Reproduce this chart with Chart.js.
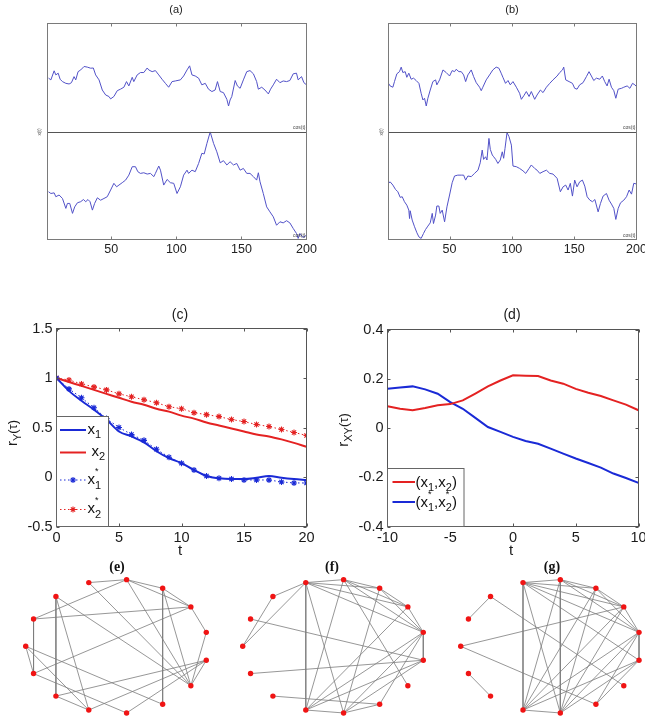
<!DOCTYPE html>
<html><head><meta charset="utf-8">
<script src="https://cdn.jsdelivr.net/npm/chart.js@4/dist/chart.umd.min.js"></script>
<style>
html,body{margin:0;padding:0;background:#fff;}
body{width:645px;height:720px;position:relative;overflow:hidden;}
.p{position:absolute;overflow:hidden;}
canvas{display:block;}
</style></head><body>
<div class="p" style="left:0;top:0;width:320px;height:265px"><canvas id="ca" width="320" height="265"></canvas></div>
<div class="p" style="left:320px;top:0;width:325px;height:265px"><canvas id="cb" width="345" height="265"></canvas></div>
<div class="p" style="left:0;top:280px;width:320px;height:285px"><canvas id="cc" width="320" height="285"></canvas></div>
<div class="p" style="left:320px;top:280px;width:325px;height:285px"><canvas id="cd" width="345" height="285"></canvas></div>
<div class="p" style="left:0;top:560px;width:215px;height:160px"><canvas id="ce" width="215" height="160"></canvas></div>
<div class="p" style="left:215px;top:560px;width:215px;height:160px"><canvas id="cf" width="215" height="160"></canvas></div>
<div class="p" style="left:430px;top:560px;width:215px;height:160px"><canvas id="cg" width="215" height="160"></canvas></div>
<script>
// ---------- DATA ----------
// Panels (a),(b): time index t and signal level (relative units, midline = 50)
const xTicksAB = [50, 100, 150, 200];
const seriesA_top = [[1.8,74.7],[3.6,73.9],[6.1,78.1],[7.4,76.2],[9.2,77.0],[10.7,74.2],[12.5,73.1],[15.1,72.3],[17.6,72.0],[19.4,72.6],[21.4,75.4],[22.7,73.9],[24.5,77.7],[26.5,78.5],[29.1,80.1],[31.6,79.8],[34.2,79.3],[36.2,79.4],[38.0,76.2],[40.6,73.9],[43.1,69.2],[45.7,66.9],[48.2,66.2],[49.5,65.1],[52.0,66.2],[54.6,68.9],[57.1,69.6],[59.7,70.5],[61.7,73.1],[63.5,71.1],[66.1,75.1],[67.3,73.1],[69.9,76.2],[72.4,77.3],[75.0,77.3],[77.6,79.4],[78.8,78.5],[81.4,77.7],[83.9,78.2],[86.5,76.2],[89.0,74.2],[91.6,72.3],[94.1,70.5],[96.7,73.1],[99.2,73.4],[103.1,73.9],[105.6,75.7],[108.2,78.5],[110.2,80.4],[112.0,76.2],[114.5,75.7],[117.1,74.7],[119.6,71.6],[122.2,72.3],[124.7,69.6],[127.3,68.5],[129.8,69.2],[131.6,73.1],[133.7,68.5],[136.2,68.0],[138.8,64.9],[140.1,61.8],[141.3,64.6],[142.6,66.2],[145.2,73.6],[146.9,71.1],[149.0,70.0],[151.5,73.9],[154.1,77.7],[156.6,78.2],[159.2,76.7],[161.7,73.1],[163.0,69.6],[165.6,70.5],[168.1,69.2],[170.7,67.4],[172.4,69.6],[174.5,71.6],[177.0,74.2],[179.6,72.6],[182.1,73.4],[184.7,73.1],[187.2,73.6],[189.8,76.7],[192.3,77.0],[193.6,73.9],[196.2,75.4],[198.0,72.6],[200.0,71.6]];
const seriesA_bottom = [[1.8,22.1],[3.6,21.3],[6.1,21.6],[7.4,19.8],[9.9,20.6],[12.5,19.0],[15.1,14.4],[16.3,16.7],[18.1,16.7],[20.2,12.1],[21.9,15.1],[24.0,17.0],[26.5,17.5],[28.6,18.5],[30.4,17.5],[32.1,18.5],[33.7,17.5],[35.5,13.6],[37.2,16.7],[39.3,19.3],[41.8,18.2],[44.4,19.0],[46.9,19.8],[49.5,22.9],[52.0,26.0],[54.1,24.4],[55.9,25.2],[58.4,26.3],[61.0,27.5],[63.5,29.8],[66.1,33.7],[68.6,33.7],[70.4,31.4],[72.4,30.6],[75.0,30.9],[77.6,30.3],[80.1,30.6],[82.7,29.1],[83.9,30.6],[86.5,34.0],[87.8,32.1],[90.3,25.2],[92.9,27.8],[95.4,26.3],[98.0,26.0],[100.5,21.3],[103.1,24.4],[105.6,29.8],[108.2,32.1],[109.4,30.6],[112.0,32.1],[114.5,31.4],[117.1,35.2],[119.6,39.9],[121.4,39.6],[123.5,44.5],[126.0,49.8],[128.6,44.5],[131.1,40.6],[133.7,35.5],[136.2,36.5],[138.8,34.5],[141.3,36.0],[143.9,34.5],[146.4,35.2],[149.0,32.1],[151.5,32.9],[154.1,30.6],[156.6,30.6],[159.2,29.1],[161.7,27.5],[163.0,30.9],[164.3,26.7],[166.8,21.3],[169.4,15.1],[171.9,12.8],[174.5,10.5],[177.0,6.6],[179.6,8.2],[182.1,7.7],[184.7,8.7],[187.2,7.7],[189.8,5.1],[192.3,2.8],[193.6,0.5],[194.9,2.8],[197.4,0.9],[200.0,2.0]];
const seriesB_top = [[1,72.3],[2.3,71.1],[4.5,70.5],[5.8,73.1],[7.7,76.7],[9.8,77.7],[11.2,79.8],[12.5,77.3],[14.4,77.7],[15.7,75.1],[17.3,77.0],[19.2,74.2],[21.1,74.7],[23.2,73.6],[25.4,72.3],[27.2,67.7],[28.6,64.6],[29.9,65.4],[31.3,61.8],[32.6,65.4],[34.5,69.2],[36.6,73.1],[38.8,73.9],[39.8,71.6],[42.0,73.9],[44.7,78.5],[47.3,77.3],[50.0,75.7],[52.1,78.2],[54.0,77.7],[55.3,78.8],[57.5,77.7],[59.4,77.7],[61.3,76.2],[62.9,73.1],[64.7,76.2],[67.4,78.5],[69.3,75.4],[71.4,72.6],[74.1,70.5],[75.4,68.9],[76.7,70.5],[79.4,73.9],[82.1,76.2],[84.7,78.5],[87.4,79.8],[89.6,79.3],[91.4,77.0],[92.8,75.1],[94.9,72.3],[96.9,73.6],[98.7,71.6],[100.9,73.1],[103.6,70.5],[106.2,67.7],[107.6,64.9],[109.5,66.5],[111.6,68.5],[113.8,66.2],[115.6,68.5],[118.3,64.9],[120.2,66.9],[122.9,69.2],[125.0,68.0],[127.7,70.5],[130.4,72.3],[133.0,73.9],[136.3,75.7],[138.4,77.3],[140.6,78.5],[141.6,79.8],[143.2,73.9],[145.9,73.1],[148.6,72.3],[150.4,70.0],[152.3,69.6],[154.4,71.6],[157.1,72.6],[159.8,75.4],[161.9,77.7],[163.8,75.7],[165.7,73.6],[167.8,74.7],[170.5,74.2],[172.6,75.7],[174.5,73.1],[176.4,71.1],[178.0,74.2],[179.9,70.5],[181.8,68.9],[183.4,65.4],[185.3,69.6],[188.0,70.0],[189.8,70.5],[192.5,71.1],[194.7,70.0],[196.8,72.3],[198.7,71.6],[200.0,70.8]];
const seriesB_bottom = [[1,26.0],[2.3,26.7],[4.5,25.2],[6.6,23.2],[8.5,22.1],[10.4,19.5],[12.0,19.8],[13.8,17.5],[15.7,15.9],[17.3,13.6],[17.9,9.7],[18.4,13.3],[20.0,9.0],[21.9,5.9],[23.8,3.1],[25.4,1.2],[27.2,0.5],[29.1,2.8],[30.7,4.6],[32.6,6.2],[34.5,7.7],[36.1,12.1],[37.1,7.4],[38.8,11.3],[39.8,15.5],[41.4,15.5],[42.5,12.1],[44.1,13.6],[46.0,8.2],[47.9,15.1],[50.0,20.6],[52.1,26.3],[54.0,29.4],[56.6,29.8],[59.4,29.8],[61.3,29.8],[62.9,27.5],[64.7,29.4],[67.4,29.1],[70.0,30.6],[72.8,32.1],[74.6,35.5],[76.2,41.4],[77.3,37.1],[78.9,38.3],[80.0,36.8],[81.6,46.8],[82.7,41.7],[84.3,39.1],[85.4,38.3],[87.0,37.1],[88.8,35.2],[90.7,36.8],[92.3,40.6],[93.4,37.6],[94.5,42.2],[96.1,49.5],[97.7,47.6],[99.6,43.7],[100.9,34.0],[103.6,33.7],[106.2,32.9],[108.9,31.8],[111.1,30.6],[113.8,32.9],[115.6,34.5],[118.3,32.9],[120.2,32.1],[122.4,30.6],[125.0,31.4],[127.7,32.1],[130.4,30.6],[133.0,30.3],[136.3,28.3],[138.9,22.1],[141.1,24.4],[143.2,25.2],[145.1,22.9],[146.9,26.0],[148.6,20.1],[150.4,27.5],[152.3,24.4],[154.4,26.7],[156.6,27.5],[158.5,24.7],[160.4,19.8],[162.6,18.2],[164.7,17.5],[166.6,18.5],[169.2,12.8],[171.1,16.7],[173.2,20.1],[175.9,21.3],[178.0,18.2],[179.9,16.4],[181.8,14.4],[183.4,9.3],[185.3,14.4],[187.2,17.0],[189.8,18.2],[192.0,19.8],[194.1,22.9],[196.0,21.0],[197.8,26.0],[200.0,25.7]];

// Panel (c): autocorrelation r_Y(tau)
const tC = [0,1,2,3,4,5,6,7,8,9,10,11,12,13,14,15,16,17,18,19,20];
const cX1 = [1,0.87,0.77,0.68,0.58,0.46,0.41,0.35,0.26,0.19,0.14,0.07,0.01,-0.013,-0.02,-0.02,-0.007,0.01,-0.007,-0.02,-0.03];
const cX2 = [1,0.96,0.92,0.88,0.84,0.80,0.76,0.73,0.69,0.66,0.62,0.59,0.55,0.52,0.49,0.46,0.43,0.41,0.38,0.345,0.305];
const cX1s = [1,0.89,0.80,0.70,0.59,0.50,0.43,0.37,0.28,0.20,0.14,0.07,0.01,-0.013,-0.02,-0.03,-0.03,-0.03,-0.05,-0.06,-0.06];
const cX2s = [1,0.98,0.94,0.91,0.88,0.84,0.81,0.78,0.75,0.71,0.69,0.65,0.63,0.61,0.58,0.56,0.53,0.51,0.48,0.45,0.42];
const xTicksC = [0,5,10,15,20];
const yTicksC = [-0.5,0,0.5,1,1.5];

// Panel (d): cross-correlation r_XY(tau)
const tD = [-10,-9,-8,-7,-6,-5,-4,-3,-2,-1,0,1,2,3,4,5,6,7,8,9,10];
const dX12 = [0.088,0.078,0.072,0.081,0.092,0.097,0.112,0.14,0.169,0.193,0.214,0.212,0.211,0.193,0.18,0.159,0.143,0.13,0.112,0.095,0.072];
const dX12s = [0.159,0.164,0.169,0.157,0.139,0.105,0.078,0.041,0.004,-0.016,-0.036,-0.053,-0.064,-0.084,-0.104,-0.124,-0.142,-0.161,-0.185,-0.203,-0.223];
const xTicksD = [-10,-5,0,5,10];
const yTicksD = [-0.4,-0.2,0,0.2,0.4];

// Panels (e),(f),(g): 15 nodes on an ellipse (unit coords) and edge lists
const nodeX = [-1,-0.914,-0.669,-0.309,0.105,0.5,0.809,0.978,0.978,0.809,0.5,0.105,-0.309,-0.669,-0.914];
const nodeY = [0,0.407,0.743,0.951,0.995,0.866,0.588,0.208,-0.208,-0.588,-0.866,-0.995,-0.951,-0.743,-0.407];
const edgesE = [[3,4],[4,5],[4,6],[5,6],[6,7],[4,9],[5,9],[5,10],[2,9],[6,1],[6,14],[1,4],[1,14],[2,13],[2,12],[0,14],[0,10],[14,11],[13,8],[13,12],[12,8],[11,8],[9,8],[3,9],[7,9],[0,12]];
const edgesF = [[1,8],[0,2],[0,3],[2,3],[3,4],[3,5],[3,6],[3,7],[3,12],[3,11],[4,5],[4,9],[4,12],[4,7],[5,6],[5,7],[5,11],[6,7],[6,12],[7,8],[7,12],[7,11],[7,10],[8,14],[8,12],[8,11],[13,10],[11,10],[12,11],[4,6]];
const edgesG = [[1,2],[2,9],[0,6],[0,10],[14,13],[3,12],[4,11],[3,4],[3,5],[3,6],[3,7],[3,8],[3,11],[4,5],[4,6],[4,7],[4,12],[5,6],[5,7],[5,11],[5,12],[6,7],[6,11],[6,12],[7,8],[7,12],[7,11],[7,10],[8,12],[8,11],[8,10],[12,11]];

// ---------- STYLE / HELPERS ----------
const FONT = '"Liberation Sans", Arial, sans-serif';
const SERIF = '"Liberation Serif", "Times New Roman", serif';
const TS_BLUE = '#5252c8';
const BLUE = '#1a2ad6';
const RED = '#e42222';
Chart.defaults.font.family = FONT;

const framePlugin = {
  id: 'frame',
  afterDatasetsDraw(chart, args, o) {
    const ctx = chart.ctx, a = chart.chartArea;
    const xs = chart.scales.x, ys = chart.scales.y;
    ctx.save();
    ctx.lineWidth = 1;
    if (o.mid != null) {
      const py = Math.round(ys.getPixelForValue(o.mid)) + 0.5;
      ctx.strokeStyle = o.midColor || '#444';
      ctx.beginPath(); ctx.moveTo(a.left, py); ctx.lineTo(a.right, py); ctx.stroke();
    }
    ctx.strokeStyle = o.color || '#555';
    ctx.strokeRect(a.left, a.top, a.right - a.left, a.bottom - a.top);
    const L = o.tick || 3;
    ctx.beginPath();
    (o.xt || []).forEach(v => {
      const p = Math.round(xs.getPixelForValue(v)) + 0.5;
      ctx.moveTo(p, a.bottom); ctx.lineTo(p, a.bottom - L);
      ctx.moveTo(p, a.top); ctx.lineTo(p, a.top + L);
    });
    (o.yt || []).forEach(v => {
      const p = Math.round(ys.getPixelForValue(v)) + 0.5;
      ctx.moveTo(a.left, p); ctx.lineTo(a.left + L, p);
      ctx.moveTo(a.right, p); ctx.lineTo(a.right - L, p);
    });
    ctx.stroke();
    ctx.restore();
  }
};

function measureRich(ctx, parts, fam) {
  let w = 0;
  parts.forEach(p => { ctx.font = (p.w || '') + ' ' + p.s + 'px ' + fam; if (!p.stay) w += ctx.measureText(p.t).width; });
  return w;
}
function rich(ctx, x, y, parts, fam, color) {
  ctx.save();
  ctx.fillStyle = color || '#111';
  ctx.textBaseline = 'alphabetic'; ctx.textAlign = 'left';
  let cx = x;
  parts.forEach(p => {
    ctx.font = (p.w || '') + ' ' + p.s + 'px ' + fam;
    ctx.fillText(p.t, cx + (p.dx || 0), y + (p.dy || 0));
    if (!p.stay) cx += ctx.measureText(p.t).width;
  });
  ctx.restore();
}
function text(ctx, s, x, y, font, color, align, rot) {
  ctx.save();
  ctx.font = font; ctx.fillStyle = color || '#111';
  ctx.textAlign = align || 'center'; ctx.textBaseline = 'middle';
  ctx.translate(x, y); if (rot) ctx.rotate(rot);
  ctx.fillText(s, 0, 0);
  ctx.restore();
}
function rotRich(ctx, cx, cy, parts, fam, color) {
  const w = measureRich(ctx, parts, fam);
  ctx.save(); ctx.translate(cx, cy); ctx.rotate(-Math.PI / 2);
  rich(ctx, -w / 2, 5, parts, fam, color);
  ctx.restore();
}
function pts(pairs) { return pairs.map(p => ({ x: p[0], y: p[1] })); }
function zipXY(xs, ys) { return xs.map((x, i) => ({ x: x, y: ys[i] })); }

// ---------- (a), (b) ----------
function tsChart(id, top, bottom, padL, padR, title, titleX, lblX) {
  const el = document.getElementById(id);
  const H = el.height;
  const mk = d => ({ data: pts(d), showLine: true, borderColor: TS_BLUE, borderWidth: 1, pointRadius: 0, tension: 0 });
  return new Chart(el, {
    type: 'scatter',
    data: { datasets: [mk(top), mk(bottom)] },
    options: {
      animation: false, responsive: false, events: [],
      layout: { padding: { left: padL, top: 23.5, right: padR, bottom: 0 } },
      scales: {
        x: { type: 'linear', min: 1, max: 200,
          afterBuildTicks: s => { s.ticks = xTicksAB.map(v => ({ value: v })); },
          afterFit: s => { s.height = H - 239.5; },
          grid: { display: false, drawTicks: false }, border: { display: false },
          ticks: { padding: 3, autoSkip: false, maxRotation: 0, color: '#222', font: { family: FONT, size: 12.5 } } },
        y: { type: 'linear', display: false, min: 0, max: 100 }
      },
      plugins: { legend: { display: false }, tooltip: { enabled: false },
        frame: { color: '#7a7a7a', midColor: '#555', mid: 50, xt: [50, 100, 150], tick: 3 } }
    },
    plugins: [framePlugin, { id: 'tx', afterDraw(chart) {
      const ctx = chart.ctx, a = chart.chartArea;
      text(ctx, title, titleX, 10, '11px "Liberation Sans Narrow", ' + FONT, '#222');
      text(ctx, 'x(t)', lblX, 132, '5px ' + FONT, '#555', 'center', -Math.PI / 2);
      text(ctx, 'cos(t)', a.right - 1, 128, '5px ' + FONT, '#444', 'right');
      text(ctx, 'cos(t)', a.right - 1, 236, '5px ' + FONT, '#444', 'right');
    } }]
  });
}
tsChart('ca', seriesA_top, seriesA_bottom, 47.5, 13.5, '(a)', 176, 40);
tsChart('cb', seriesB_top, seriesB_bottom, 68.5, 28.5, '(b)', 192, 62);

// ---------- (c), (d) ----------
function corrScales(H, yW, xmin, xmax, ymin, ymax, xt, yt) {
  return {
    x: { type: 'linear', min: xmin, max: xmax,
      afterBuildTicks: s => { s.ticks = xt.map(v => ({ value: v })); },
      afterFit: s => { s.height = H - 246.5; },
      grid: { display: false, drawTicks: false }, border: { display: false },
      ticks: { padding: 3, autoSkip: false, maxRotation: 0, color: '#1a1a1a', font: { family: FONT, size: 14.5 }, callback: v => String(v) } },
    y: { type: 'linear', min: ymin, max: ymax,
      afterBuildTicks: s => { s.ticks = yt.map(v => ({ value: v })); },
      afterFit: s => { s.width = yW; },
      grid: { display: false, drawTicks: false }, border: { display: false },
      ticks: { padding: 4, autoSkip: false, color: '#1a1a1a', font: { family: FONT, size: 14.5 }, callback: v => String(v) } }
  };
}

const elC = document.getElementById('cc');
new Chart(elC, {
  type: 'scatter',
  data: { datasets: [
    { data: zipXY(tC, cX1s), showLine: true, borderColor: BLUE, borderWidth: 1, borderDash: [1.5, 2.5], pointStyle: 'star', pointRadius: 3, pointBorderColor: BLUE, pointBorderWidth: 1.1 },
    { data: zipXY(tC, cX2s), showLine: true, borderColor: RED, borderWidth: 1, borderDash: [1.5, 2.5], pointStyle: 'star', pointRadius: 3, pointBorderColor: RED, pointBorderWidth: 1.1 },
    { data: zipXY(tC, cX1), showLine: true, borderColor: BLUE, borderWidth: 2, pointRadius: 0, cubicInterpolationMode: 'monotone' },
    { data: zipXY(tC, cX2), showLine: true, borderColor: RED, borderWidth: 2, pointRadius: 0, cubicInterpolationMode: 'monotone' }
  ] },
  options: {
    animation: false, responsive: false, events: [],
    layout: { padding: { left: 0, top: 48.5, right: 13.5, bottom: 0 } },
    scales: corrScales(elC.height, 56.5, 0, 20, -0.5, 1.5, xTicksC, yTicksC),
    plugins: { legend: { display: false }, tooltip: { enabled: false },
      frame: { color: '#555', xt: xTicksC, yt: yTicksC, tick: 3 } }
  },
  plugins: [framePlugin, { id: 'txc', afterDraw(chart) {
    const ctx = chart.ctx, a = chart.chartArea;
    text(ctx, '(c)', 180, 35, '14px ' + FONT, '#1a1a1a');
    text(ctx, 't', 180, 271, '15px ' + FONT, '#1a1a1a');
    rotRich(ctx, 12, 153, [{ t: 'r', s: 15 }, { t: 'Y', s: 11, dy: 4 }, { t: '(τ)', s: 13 }], FONT, '#1a1a1a');
    // legend
    ctx.save();
    ctx.fillStyle = '#fff'; ctx.strokeStyle = '#666'; ctx.lineWidth = 1;
    ctx.fillRect(a.left, 136.5, 52, a.bottom - 136.5);
    ctx.strokeRect(a.left, 136.5, 52, a.bottom - 136.5);
    const rows = [
      { y: 150, c: BLUE, dot: false, tx: 87.5, ty: 154, parts: [{ t: 'x', s: 15 }, { t: '1', s: 11, dy: 4 }] },
      { y: 172.5, c: RED, dot: false, tx: 91.5, ty: 176, parts: [{ t: 'x', s: 15 }, { t: '2', s: 11, dy: 4 }] },
      { y: 200, c: BLUE, dot: true, tx: 87.5, ty: 204, parts: [{ t: 'x', s: 15 }, { t: '*', s: 9, dy: -10, stay: true }, { t: '1', s: 11, dy: 5 }] },
      { y: 229.5, c: RED, dot: true, tx: 87.5, ty: 233, parts: [{ t: 'x', s: 15 }, { t: '*', s: 9, dy: -10, stay: true }, { t: '2', s: 11, dy: 5 }] }
    ];
    rows.forEach(r => {
      ctx.strokeStyle = r.c;
      ctx.lineWidth = r.dot ? 1 : 2;
      ctx.setLineDash(r.dot ? [1.5, 2.5] : []);
      ctx.beginPath(); ctx.moveTo(60, r.y); ctx.lineTo(86, r.y); ctx.stroke();
      ctx.setLineDash([]);
      if (r.dot) {
        ctx.lineWidth = 1.1; const m = 73, s = 3, d = s * 0.707;
        ctx.beginPath();
        ctx.moveTo(m - s, r.y); ctx.lineTo(m + s, r.y); ctx.moveTo(m, r.y - s); ctx.lineTo(m, r.y + s);
        ctx.moveTo(m - d, r.y - d); ctx.lineTo(m + d, r.y + d); ctx.moveTo(m - d, r.y + d); ctx.lineTo(m + d, r.y - d);
        ctx.stroke();
      }
      rich(ctx, r.tx, r.ty, r.parts, FONT, '#111');
    });
    ctx.restore();
  } }]
});

const elD = document.getElementById('cd');
new Chart(elD, {
  type: 'scatter',
  data: { datasets: [
    { data: zipXY(tD, dX12), showLine: true, borderColor: RED, borderWidth: 2, pointRadius: 0 },
    { data: zipXY(tD, dX12s), showLine: true, borderColor: BLUE, borderWidth: 2, pointRadius: 0 }
  ] },
  options: {
    animation: false, responsive: false, events: [],
    layout: { padding: { left: 0, top: 49.5, right: 26.5, bottom: 0 } },
    scales: corrScales(elD.height, 67.5, -10, 10, -0.4, 0.4, xTicksD, yTicksD),
    plugins: { legend: { display: false }, tooltip: { enabled: false },
      frame: { color: '#555', xt: xTicksD, yt: yTicksD, tick: 3 } }
  },
  plugins: [framePlugin, { id: 'txd', afterDraw(chart) {
    const ctx = chart.ctx, a = chart.chartArea;
    text(ctx, '(d)', 192, 35, '14px ' + FONT, '#1a1a1a');
    text(ctx, 't', 191, 271, '15px ' + FONT, '#1a1a1a');
    rotRich(ctx, 23, 150, [{ t: 'r', s: 15 }, { t: 'XY', s: 11, dy: 4 }, { t: '(τ)', s: 13 }], FONT, '#1a1a1a');
    ctx.save();
    ctx.fillStyle = '#fff'; ctx.strokeStyle = '#666'; ctx.lineWidth = 1;
    ctx.fillRect(a.left, 188.5, 76.5, a.bottom - 188.5);
    ctx.strokeRect(a.left, 188.5, 76.5, a.bottom - 188.5);
    const rows = [
      { y: 202, c: RED, parts: [{ t: '(', s: 15 }, { t: 'x', s: 15 }, { t: '1', s: 11, dy: 4 }, { t: ',', s: 15 }, { t: 'x', s: 15 }, { t: '2', s: 11, dy: 4 }, { t: ')', s: 15 }] },
      { y: 222, c: BLUE, parts: [{ t: '(', s: 15 }, { t: 'x', s: 15 }, { t: '*', s: 9, dy: -10, stay: true }, { t: '1', s: 11, dy: 4 }, { t: ',', s: 15 }, { t: 'x', s: 15 }, { t: '*', s: 9, dy: -10, stay: true }, { t: '2', s: 11, dy: 4 }, { t: ')', s: 15 }] }
    ];
    rows.forEach(r => {
      ctx.strokeStyle = r.c; ctx.lineWidth = 2;
      ctx.beginPath(); ctx.moveTo(72.5, r.y); ctx.lineTo(95, r.y); ctx.stroke();
      rich(ctx, 95.5, r.y + 4.5, r.parts, FONT, '#111');
    });
    ctx.restore();
  } }]
});

// ---------- (e), (f), (g) ----------
function netChart(id, edges, padL, padR, title, titleX) {
  const el = document.getElementById(id);
  const nodes = nodeX.map((x, i) => ({ x: x, y: nodeY[i] }));
  const ds = [{ data: nodes, pointRadius: 2.7, pointBackgroundColor: '#f01414', pointBorderWidth: 0, showLine: false, clip: false }];
  edges.forEach(e => {
    ds.push({ data: [nodes[e[0]], nodes[e[1]]], showLine: true, borderColor: '#7c7c7c', borderWidth: 0.8, pointRadius: 0, clip: false });
  });
  return new Chart(el, {
    type: 'scatter',
    data: { datasets: ds },
    options: {
      animation: false, responsive: false, events: [],
      layout: { padding: { left: padL, top: 19.3, right: padR, bottom: 6.7 } },
      scales: { x: { type: 'linear', display: false, min: -1, max: 1 }, y: { type: 'linear', display: false, min: -1, max: 1 } },
      plugins: { legend: { display: false }, tooltip: { enabled: false } }
    },
    plugins: [{ id: 'tt', afterDraw(chart) { text(chart.ctx, title, titleX, 7.5, 'bold 14px ' + SERIF, '#111'); } }]
  });
}
netChart('ce', edgesE, 25.7, 6.7, '(e)', 117);
netChart('cf', edgesF, 27.7, 4.7, '(f)', 117);
netChart('cg', edgesG, 30.7, 1.7, '(g)', 122);
</script>
</body></html>
